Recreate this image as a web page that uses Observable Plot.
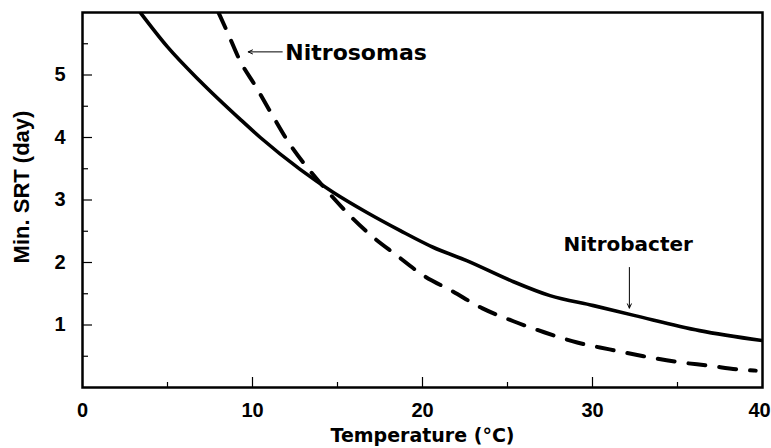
<!DOCTYPE html>
<html>
<head>
<meta charset="utf-8">
<script src="https://cdn.jsdelivr.net/npm/d3@7"></script>
<script src="https://cdn.jsdelivr.net/npm/@observablehq/plot@0.6"></script>
<style>
  html, body { margin: 0; padding: 0; background: #fff; }
</style>
</head>
<body>
<div id="chart"></div>
<script>
// Nitrobacter (solid line)
const nitrobacterT   = [3.4, 5.0, 6.92, 9.28, 10.46, 12.8, 14.76, 16.73, 18.69, 20.65, 22.6, 25.2, 27.5, 30.06, 32.5, 36.3, 40];
const nitrobacterSRT = [6.0, 5.45, 4.9, 4.29, 4.0, 3.49, 3.12, 2.80, 2.51, 2.24, 2.03, 1.71, 1.47, 1.31, 1.15, 0.91, 0.75];

// Nitrosomas (dashed line)
const nitrosomasT   = [8.0, 8.5, 9.28, 10.16, 11.14, 12.2, 13.4, 14.57, 15.55, 16.9, 18.5, 20.06, 21.7, 23.5, 25.35, 27.2, 29.1, 31.0, 33.0, 34.96, 36.8, 38.9, 39.6];
const nitrosomasSRT = [6.0, 5.7, 5.22, 4.83, 4.37, 3.89, 3.46, 3.09, 2.80, 2.45, 2.11, 1.79, 1.55, 1.27, 1.06, 0.88, 0.72, 0.61, 0.50, 0.41, 0.35, 0.28, 0.27];

// Ticks
const xTickLabels = [0, 10, 20, 30];
const xLastTick = [40];
const xMajorTicks = [10, 20, 30];
const xMinorTicks = [5, 15, 25, 35];
const yTickLabels = [1, 2, 3, 4, 5];
const yMinorTicks = [0.5, 1.5, 2.5, 3.5, 4.5, 5.5];

const xTitle = "Temperature (°C)";
const yTitle = "Min. SRT (day)";

// Annotations (labels and arrows, in data units)
const labelNames = ["Nitrosomas", "Nitrobacter"];
const labelX = [11.93, 32.1];
const labelY = [5.35, 2.29];
const labelAnchor = ["start", "middle"];
const labelSize = [22, 20];
const arrowX1 = [11.75, 32.17];
const arrowY1 = [5.37, 1.92];
const arrowX2 = [9.75, 32.17];
const arrowY2 = [5.37, 1.27];

const solid = nitrobacterT.map((t, i) => ({t, v: nitrobacterSRT[i]}));
const dashed = nitrosomasT.map((t, i) => ({t, v: nitrosomasSRT[i]}));
const labels = labelNames.map((name, i) => ({name, x: labelX[i], y: labelY[i], anchor: labelAnchor[i], size: labelSize[i]}));
const arrows = arrowX1.map((x1, i) => ({x1, y1: arrowY1[i], x2: arrowX2[i], y2: arrowY2[i]}));

const plotH = 448 - 12 - 61;
const plotW = 771 - 82 - 9;
const tickFont = {fontFamily: "Liberation Sans", fontSize: 20, fontWeight: "bold"};

const chart = Plot.plot({
  width: 771,
  height: 448,
  marginLeft: 82,
  marginRight: 9,
  marginTop: 12,
  marginBottom: 61,
  x: {domain: [0, 40]},
  y: {domain: [0, 6]},
  style: {fontFamily: "DejaVu Sans", fontWeight: "bold", fontSize: "18px", color: "black", background: "white"},
  marks: [
    Plot.axisX({ticks: xTickLabels, tickSize: 0, tickPadding: 15, label: null, tickFormat: d => String(d), ...tickFont}),
    Plot.axisX({ticks: xLastTick, tickSize: 0, tickPadding: 15, label: null, tickFormat: d => String(d), dx: -3, ...tickFont}),
    Plot.axisY({ticks: yTickLabels, tickSize: 0, tickPadding: 17, label: null, tickFormat: d => String(d), ...tickFont}),
    Plot.tickX(xMajorTicks, {x: d => d, insetTop: plotH - 10, strokeWidth: 1.2}),
    Plot.tickX(xMinorTicks, {x: d => d, insetTop: plotH - 5, strokeWidth: 1.2}),
    Plot.tickY(yTickLabels, {y: d => d, insetRight: plotW - 10, strokeWidth: 1.2}),
    Plot.tickY(yMinorTicks, {y: d => d, insetRight: plotW - 6, strokeWidth: 1.2}),
    Plot.line(solid, {x: "t", y: "v", curve: "monotone-x", stroke: "black", strokeWidth: 3.6, clip: true}),
    Plot.line(dashed, {x: "t", y: "v", curve: "monotone-x", stroke: "black", strokeWidth: 4, strokeDasharray: "17,14", strokeLinecap: "round", clip: true}),
    Plot.frame({stroke: "black", strokeWidth: 2.5}),
    Plot.arrow(arrows, {x1: "x1", y1: "y1", x2: "x2", y2: "y2", stroke: "black", strokeWidth: 1, headLength: 7, headAngle: 50}),
    ...labels.map(l => Plot.text([l], {x: "x", y: "y", text: "name", textAnchor: l.anchor, lineAnchor: "middle", fontSize: l.size, fontWeight: "bold", fill: "black"})),
    Plot.text([xTitle], {text: d => d, frameAnchor: "bottom", textAnchor: "middle", lineAnchor: "middle", dy: 48, fontSize: 19, fontWeight: "bold", fill: "black"}),
    Plot.text([yTitle], {text: d => d, frameAnchor: "left", textAnchor: "middle", lineAnchor: "middle", rotate: -90, dx: -61, dy: -13, fontSize: 22, fontFamily: "Liberation Sans", fontWeight: "bold", fill: "black"})
  ]
});
document.getElementById("chart").appendChild(chart);
</script>
</body>
</html>
